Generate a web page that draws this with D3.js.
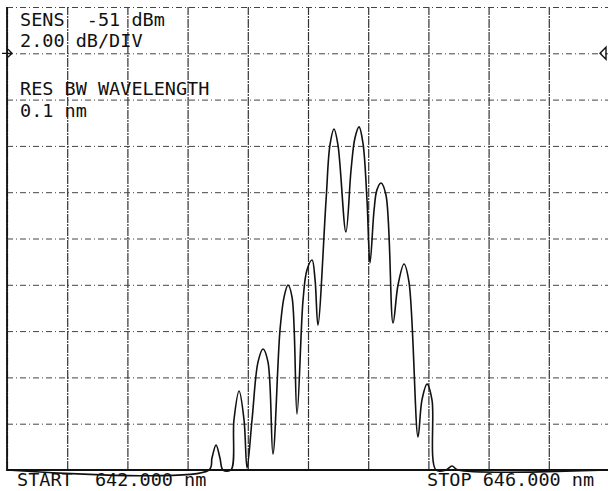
<head>
    <script src="https://cdnjs.cloudflare.com/ajax/libs/d3/7.8.5/d3.min.js"></script>
</head>

<style>
body {
    margin: 0;
    background: #fff;
}
text {
    font-family: "DejaVu Sans Mono", monospace;
    font-size: 18.5px;
    fill: #111;
    white-space: pre;
}
</style>

<body>
<svg id="canvas"></svg>

<script>
const width = 608, height = 491;

// wavelength (nm) and level (dB, relative to top graticule) of the trace
const wavelength = [
    642.000, 643.342, 643.362, 643.389, 643.415, 643.435, 643.488, 643.508,
    643.542, 643.575, 643.595, 643.628, 643.668, 643.701, 643.734, 643.767,
    643.814, 643.841, 643.867, 643.894, 643.927, 643.967, 643.993, 644.027,
    644.047, 644.066, 644.120, 644.146, 644.173, 644.199, 644.252, 644.286,
    644.312, 644.339, 644.365, 644.392, 644.412, 644.439, 644.458, 644.485,
    644.518, 644.565, 644.598, 644.638, 644.671, 644.731, 644.757, 644.791,
    644.824, 644.850, 644.917, 644.957, 644.997, 646.000
];
const level = [
    -20.00, -20.00, -19.48, -18.92, -19.48, -20.00, -20.00, -17.84,
    -16.59, -17.84, -19.91, -17.84, -15.33, -14.77, -15.33, -19.31,
    -13.95, -12.53, -12.01, -12.53, -17.58, -12.66, -11.36, -10.93,
    -11.79, -13.74, -8.34, -5.96, -5.27, -5.96, -9.72, -7.04,
    -5.66, -5.18, -5.87, -8.34, -11.06, -8.77, -7.90, -7.60,
    -8.12, -13.65, -12.01, -11.10, -11.88, -18.57, -16.98, -16.29,
    -16.98, -20.00, -20.00, -19.83, -20.00, -20.00
];

// graticule: 10 divisions across, 2 dB/div down
const xDivs = [642.0, 642.4, 642.8, 643.2, 643.6, 644.0, 644.4, 644.8, 645.2, 645.6, 646.0];
const yDivs = [-20, -18, -16, -14, -12, -10, -8, -6, -4, -2, 0];

const headerLines = ["SENS  -51 dBm", "2.00 dB/DIV", "RES BW WAVELENGTH", "0.1 nm"];
const startLabel = "START  642.000 nm",
    stopLabel = "STOP 646.000 nm";
const refLevel = -2; // reference marker, dB

const plotL = 7, plotR = 609, plotT = 7, plotB = 470;

const x = d3.scaleLinear().domain([642, 646]).range([plotL, plotR]);
const y = d3.scaleLinear().domain([-20, 0]).range([plotB, plotT]);

const svg = d3.select('svg#canvas')
    .attr('width', width)
    .attr('height', height);

// graticule
svg.append('g')
    .attr('transform', `translate(0,${plotB})`)
    .call(d3.axisBottom(x).tickValues(xDivs).tickSize(-(plotB - plotT)).tickFormat(''))
    .call(g => g.select('.domain').remove())
    .call(g => g.selectAll('line')
        .attr('stroke', '#333')
        .attr('stroke-width', 1.2)
        .attr('stroke-dasharray', '9,1,2,1'));

svg.append('g')
    .attr('transform', `translate(${plotL},0)`)
    .call(d3.axisLeft(y).tickValues(yDivs).tickSize(-(plotR - plotL)).tickFormat(''))
    .call(g => g.select('.domain').remove())
    .call(g => g.selectAll('line')
        .attr('stroke', '#444')
        .attr('stroke-width', 1)
        .attr('stroke-dasharray', '6,3,1,3'));

// solid left and bottom frame
svg.append('path')
    .attr('d', `M${plotL},${plotT}V${plotB}H${plotR}`)
    .attr('fill', 'none')
    .attr('stroke', '#111')
    .attr('stroke-width', 1.8);

// trace
const pts = wavelength.map((w, i) => [w, level[i]]);
svg.append('path')
    .datum(pts)
    .attr('fill', 'none')
    .attr('stroke', '#111')
    .attr('stroke-width', 1.6)
    .attr('d', d3.line()
        .x(d => x(d[0]))
        .y(d => y(d[1]))
        .curve(d3.curveCatmullRom.alpha(0.5)));

// reference level markers
const ry = y(refLevel);
svg.append('path')
    .attr('d', `M${plotL - 5},${ry}H${plotL + 5}M${plotL + 1},${ry - 4}L${plotL + 5},${ry}L${plotL + 1},${ry + 4}`)
    .attr('fill', 'none')
    .attr('stroke', '#111')
    .attr('stroke-width', 1.3);
svg.append('path')
    .attr('d', `M${plotR - 9},${ry}L${plotR - 3},${ry - 6}V${ry + 6}Z`)
    .attr('fill', 'none')
    .attr('stroke', '#111')
    .attr('stroke-width', 1.4);

// annotation text
const headerY = [26, 47, 95, 117];
svg.selectAll('text.hdr')
    .data(headerLines)
    .enter().append('text')
    .classed('hdr', true)
    .attr('x', 20)
    .attr('y', (d, i) => headerY[i])
    .text(d => d);

svg.append('text').attr('x', 17).attr('y', 486).text(startLabel);
svg.append('text').attr('x', 427).attr('y', 486).text(stopLabel);
</script>
</body>
</html>
